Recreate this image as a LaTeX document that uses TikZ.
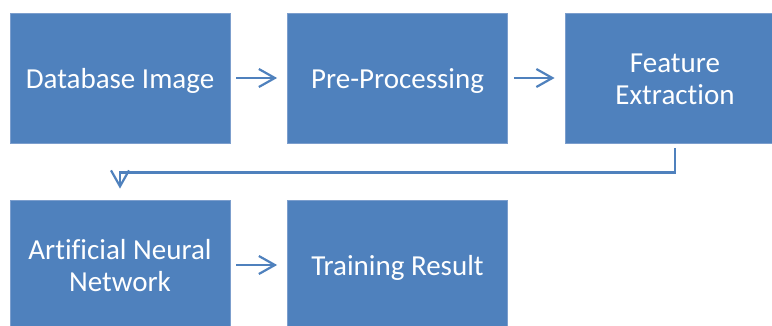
\documentclass[tikz,border=0pt]{standalone}
\usepackage{fontspec}
\setmainfont{Carlito}[Ligatures={NoCommon}]
\usetikzlibrary{arrows.meta}
\definecolor{boxblue}{HTML}{4F81BD}
\definecolor{edgeblue}{HTML}{7C9ECD}
\newcommand{\boxlbl}[1]{\raisebox{-10pt}[0pt][0pt]{\begin{tabular}{@{}c@{}}#1\end{tabular}}}
\tikzset{
  stepbox/.style={draw=edgeblue, line width=0.8pt, fill=boxblue, text=white,
    minimum width=220pt, minimum height=130pt, inner sep=0pt,
    font=\fontsize{29}{32}\selectfont},
  flowarrow/.style={draw=boxblue, line width=2.2pt,
    -{Straight Barb[length=16pt,width=18pt]}}
}
\begin{document}
\begin{tikzpicture}[x=1pt,y=-1pt]
\useasboundingbox (0,0) rectangle (772,325);
\begin{scope}
\clip (0,0) rectangle (772,325);
\node[stepbox] (db) at (120,78) {\boxlbl{Database Image}};
\node[stepbox] (pre) at (397.5,78) {\boxlbl{Pre-Processing}};
\node[stepbox] (fe) at (675,78) {\boxlbl{Feature\\Extraction}};
\node[stepbox] (ann) at (120,265) {\boxlbl{Artificial Neural\\Network}};
\node[stepbox] (tr) at (397.5,265) {\boxlbl{Training Result}};
\draw[flowarrow, shorten <=6pt, shorten >=10pt] (db.east) -- (pre.west);
\draw[flowarrow, shorten <=6pt, shorten >=10pt] (pre.east) -- (fe.west);
\draw[flowarrow, shorten <=5pt, shorten >=11pt] (fe.south) -- ++(0,29) -| (ann.north);
\draw[flowarrow, shorten <=6pt, shorten >=10pt] (ann.east) -- (tr.west);
\end{scope}
\end{tikzpicture}
\end{document}
